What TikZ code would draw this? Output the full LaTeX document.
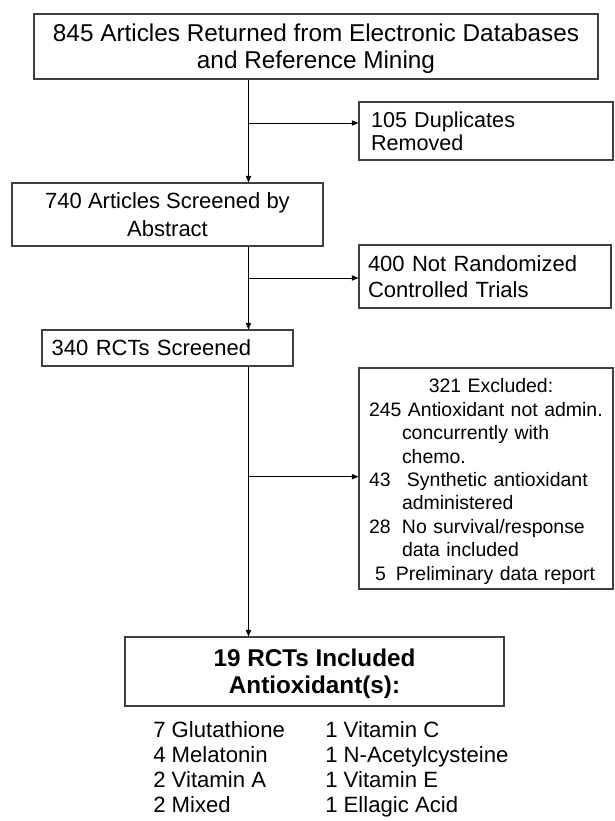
\documentclass[tikz,border=0pt]{standalone}
\usepackage{fontspec}
\setmainfont{Liberation Sans}
\usetikzlibrary{arrows.meta}
\begin{document}
\begin{tikzpicture}[x=0.75pt,y=-0.75pt,
  box/.style={draw=black!75, line width=0.85pt, rectangle, inner ysep=0pt,
    font=\fontsize{16.5}{20}\selectfont},
  small/.style={font=\fontsize{14.6}{17.55}\selectfont},
  listtext/.style={inner sep=0pt, align=left, anchor=north west,
    font=\fontsize{16.6}{18.75}\selectfont},
  conn/.style={line width=0.75pt, -{Triangle[length=5pt,width=4pt]}},
  ]
\useasboundingbox[fill=white] (0,0) rectangle (614,821);
% boxes
\node[box, minimum width=423pt, minimum height=48.75pt, inner xsep=0pt, align=center,
  font=\fontsize{18.25}{20.5}\selectfont]
  (start) at (316,46.5) {\rule{0pt}{17pt}845 Articles Returned from Electronic Databases\\and Reference Mining};
\node[box, text width=172.5pt, inner xsep=9pt, minimum height=43.5pt, align=left,
  font=\fontsize{16.2}{17.5}\selectfont]
  (dup) at (486,131) {105 Duplicates\\Removed};
\node[box, minimum width=233.25pt, minimum height=47.25pt, inner xsep=0pt, align=center,
  font=\fontsize{16.5}{21}\selectfont]
  (abs) at (167.5,214.5) {740 Articles Screened by\\Abstract};
\node[box, text width=175.5pt, inner xsep=6.75pt, minimum height=47.25pt, align=left]
  (notrct) at (485,276.5) {400 Not Randomized\\Controlled Trials};
\node[box, text width=173.65pt, inner xsep=7.3pt, minimum height=27pt, align=left]
  (rct) at (167.5,348) {340 RCTs Screened};
\node[box, small, text width=175.5pt, inner xsep=7.5pt, minimum height=165.75pt, align=left]
  (excl) at (486,478.5) {%
  \rule{0pt}{15pt}\makebox[175.5pt]{\hspace{7.5pt}321 Excluded:}\\
  245 Antioxidant not admin.\\
  \hspace*{24.75pt}concurrently with\\
  \hspace*{24.75pt}chemo.\\
  \makebox[28.5pt][l]{43}Synthetic antioxidant\\
  \hspace*{24.75pt}administered\\
  \makebox[24.75pt][l]{28}No survival/response\\
  \hspace*{24.75pt}data included\\
  \makebox[20.25pt][l]{\hspace*{4.5pt}5}Preliminary data report};
\node[box, minimum width=284.25pt, minimum height=51.75pt, inner xsep=0pt, align=center,
  font=\fontsize{18.2}{20.5}\selectfont\bfseries]
  (incl) at (314.5,671.5) {\rule{0pt}{17pt}19 RCTs Included\\Antioxidant(s):};
% lists
\node[listtext] (listl) at (153,720.9) {7 Glutathione\\4 Melatonin\\2 Vitamin A\\2 Mixed};
\node[listtext] (listr) at (325,720.9) {1 Vitamin C\\1 N-Acetylcysteine\\1 Vitamin E\\1 Ellagic Acid};
% branch points
\coordinate (b1) at (248.5,123);
\coordinate (b2) at (248.5,278);
\coordinate (b3) at (248.5,476.7);
% connectors
\draw[conn] (start.south -| b1) -- (abs.north -| b1);
\draw[conn] (b1) -- (b1 -| dup.west);
\draw[conn] (abs.south -| b2) -- (rct.north -| b2);
\draw[conn] (b2) -- (b2 -| notrct.west);
\draw[conn] (rct.south -| b3) -- (incl.north -| b3);
\draw[conn] (b3) -- (b3 -| excl.west);
\end{tikzpicture}
\end{document}
